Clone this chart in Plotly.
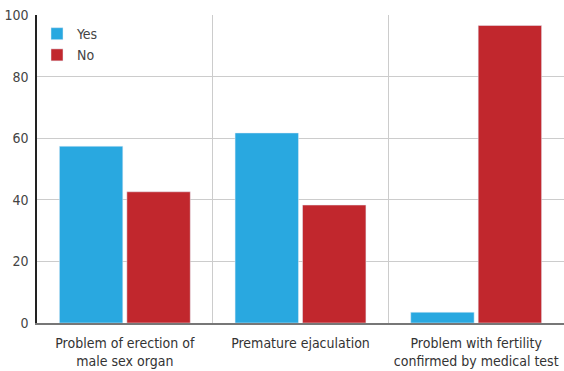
import plotly.graph_objects as go

categories = ["Problem of erection of<br>male sex organ", "Premature ejaculation",
              "Problem with fertility<br>confirmed by medical test"]
yes_values = [57.4, 61.7, 3.5]
no_values = [42.6, 38.3, 96.6]
y_ticks = [0, 20, 40, 60, 80, 100]

FONT = "DejaVu Sans Condensed, Liberation Sans Narrow, sans-serif"

fig = go.Figure()
fig.add_trace(go.Bar(name="Yes", x=categories, y=yes_values, marker_color="#29A8E0"))
fig.add_trace(go.Bar(name="No", x=categories, y=no_values, marker_color="#C1272D"))

fig.update_layout(
    width=564, height=371,
    margin=dict(l=37, r=0, t=15, b=48),
    plot_bgcolor="white", paper_bgcolor="white",
    barmode="group", bargap=0.232, bargroupgap=0.06,
    font=dict(family=FONT, size=14, color="#333333"),
    legend=dict(x=0.0, y=0.99, xanchor="left", yanchor="top",
                bgcolor="rgba(0,0,0,0)", font=dict(size=14, color="#444444"),
                tracegroupgap=0),
    showlegend=True,
)
fig.update_xaxes(
    tickson="boundaries", showgrid=True, gridcolor="#cccccc", gridwidth=1,
    ticks="", showline=True, linecolor="#777777", linewidth=1.5,
    tickangle=0, automargin=False, ticklabelstandoff=6,
    tickfont=dict(family=FONT, size=14, color="#333333"),
)
fig.update_yaxes(
    range=[0, 100], tickvals=y_ticks, showgrid=True, gridcolor="#cccccc", gridwidth=1,
    showline=True, linecolor="#222222", linewidth=1.5, zeroline=False,
    ticks="", automargin=False, ticklabelstandoff=4,
    tickfont=dict(family=FONT, size=14, color="#444444"),
)
fig.write_html("out.html", config={"displayModeBar": False},
               post_script="document.body.style.margin='0';")
